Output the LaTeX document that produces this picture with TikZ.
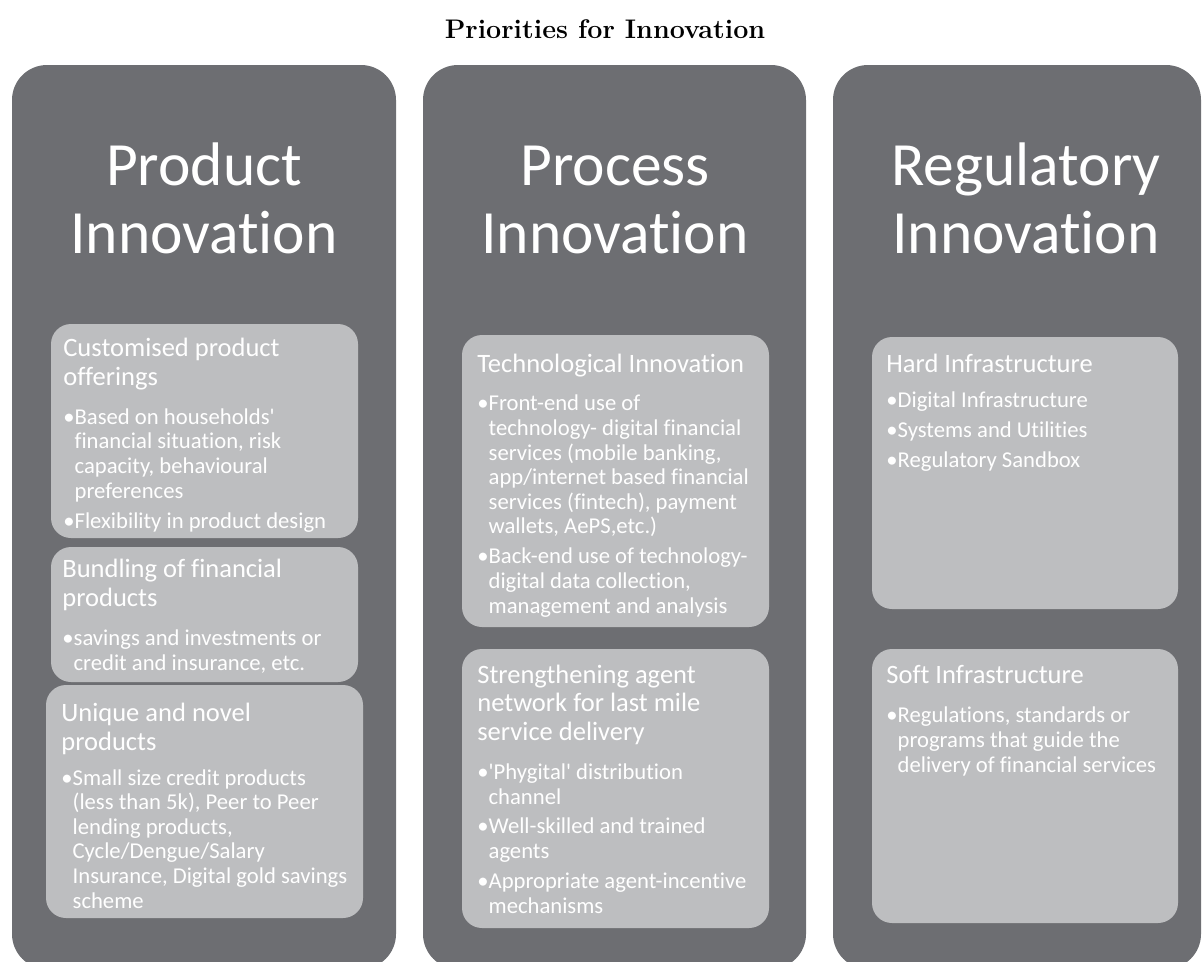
\documentclass[tikz,border=0pt]{standalone}
\usepackage{fontspec}
\newfontfamily\carlito[Ligatures=NoCommon]{Carlito}

\definecolor{colgray}{RGB}{109,110,114}
\definecolor{boxgray}{RGB}{189,190,192}

\tikzset{
  column/.style={fill=colgray, rounded corners=0.7cm},
  subbox/.style={fill=boxgray, rounded corners=0.4cm},
  colhead/.style={text=white, align=center, anchor=base, inner sep=0pt,
    font=\carlito\fontsize{35}{38.6}\selectfont},
  subhead/.style={text=white, align=left, anchor=base west, inner sep=0pt,
    font=\carlito\fontsize{15.1}{16.2}\selectfont},
  subtext/.style={text=white, align=left, anchor=base west, inner sep=0pt,
    font=\carlito\fontsize{12.9}{14}\selectfont},
}
\newcommand{\bg}{\phantom{•}}

\begin{document}
\begin{tikzpicture}[x=0.02cm, y=-0.02cm]
  \useasboundingbox (0,0) rectangle (1203,961);
  \clip (0,0) rectangle (1203,961);

  % title
  \node[anchor=base, inner sep=0pt, font=\fontsize{15.3}{18}\selectfont\bfseries] (title) at (605,38) {Priorities for Innovation};

  % the three columns (anchored on the last line)
  \fill[column] (12,65) rectangle (396,969);
  \fill[column] (423,65) rectangle (806,969);
  \fill[column] (833,65) rectangle (1201,969);

  \node[colhead] (prod) at (204,253) {Product\\Innovation};
  \node[colhead] (proc) at (615,253) {Process\\Innovation};
  \node[colhead] (regu) at (1026,253) {Regulatory\\Innovation};

  % product innovation
  \fill[subbox] (51,324) rectangle (358,538);
  \node[subhead] (cust) at (63,385) {Customised product\\offerings};
  \node[subtext] (cust-t) at (63,528) {•Based on households'\\\bg financial situation, risk\\\bg capacity, behavioural\\\bg preferences\\[3pt]•Flexibility in product design};

  \fill[subbox] (51,547) rectangle (358,682);
  \node[subhead] (bund) at (62,606) {Bundling of financial\\products};
  \node[subtext] (bund-t) at (62,670) {•savings and investments or\\\bg credit and insurance, etc.};

  \fill[subbox] (46,685) rectangle (363,918);
  \node[subhead] (uniq) at (61,750) {Unique and novel\\products};
  \node[subtext] (uniq-t) at (61,908) {•Small size credit products\\\bg (less than 5k), Peer to Peer\\\bg lending products,\\\bg Cycle/Dengue/Salary\\\bg Insurance, Digital gold savings\\\bg scheme};

  % process innovation
  \fill[subbox] (462,335) rectangle (769,627);
  \node[subhead] (tech) at (477,372) {Technological Innovation};
  \node[subtext] (tech-t) at (477,613) {•Front-end use of\\\bg technology- digital financial\\\bg services (mobile banking,\\\bg app/internet based financial\\\bg services (fintech), payment\\\bg wallets, AePS,etc.)\\[3pt]•Back-end use of technology-\\\bg digital data collection,\\\bg management and analysis};

  \fill[subbox] (462,649) rectangle (769,928);
  \node[subhead] (agnt) at (477,740) {Strengthening agent\\network for last mile\\service delivery};
  \node[subtext] (agnt-t) at (477,913) {•'Phygital' distribution\\\bg channel\\[3pt]•Well-skilled and trained\\\bg agents\\[3pt]•Appropriate agent-incentive\\\bg mechanisms};

  % regulatory innovation
  \fill[subbox] (872,337) rectangle (1178,609);
  \node[subhead] (hard) at (886,372) {Hard Infrastructure};
  \node[subtext] (hard-t) at (886,467) {•Digital Infrastructure\\[3pt]•Systems and Utilities\\[3pt]•Regulatory Sandbox};

  \fill[subbox] (872,649) rectangle (1178,923);
  \node[subhead] (soft) at (886,683) {Soft Infrastructure};
  \node[subtext] (soft-t) at (886,772) {•Regulations, standards or\\\bg programs that guide the\\\bg delivery of financial services};
\end{tikzpicture}
\end{document}
